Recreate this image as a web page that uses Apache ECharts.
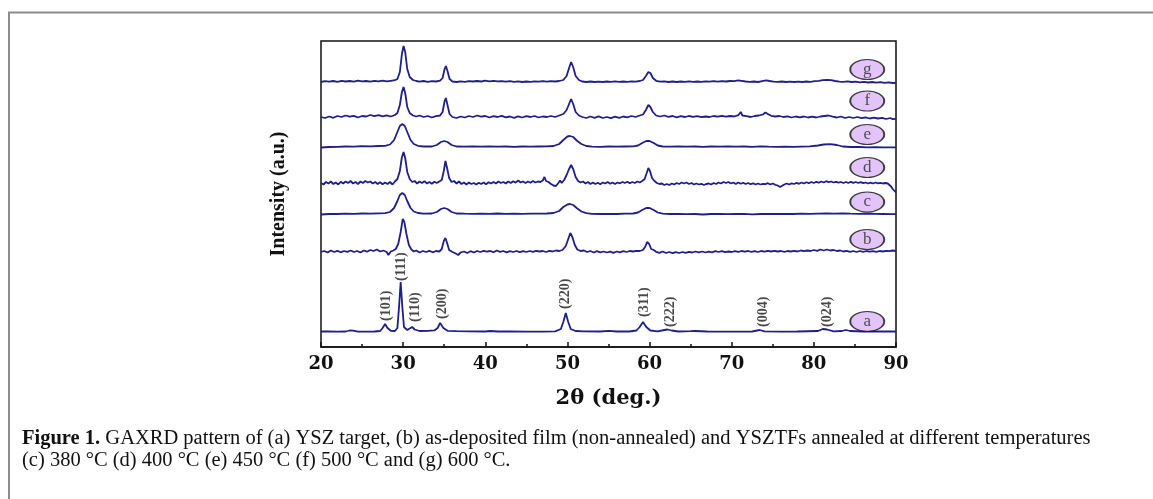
<!DOCTYPE html>
<html>
<head>
<meta charset="utf-8">
<script src="https://cdn.jsdelivr.net/npm/echarts@6/dist/echarts.min.js"></script>
<style>
html,body{margin:0;padding:0;background:#fff;}
#chart{width:1153px;height:499px;}
</style>
</head>
<body>
<div id="chart"></div>
<script>
// ---- data: [2θ (deg), intensity above own baseline (a.u.)] ----
const traceNames = ['a', 'b', 'c', 'd', 'e', 'f', 'g'];
const stackOffsets = [15, 95, 133, 164, 200, 230, 265];

const traceA = [[20,0.5],[21,0.5],[22,0.3],[23,0.5],[23.5,1.5],[23.9,1.3],[24.5,0.3],[25.5,0.3],[26.5,0.5],[27.2,1],[27.5,4],[27.8,8],[28.1,4],[28.5,1.2],[29,1],[29.3,4],[29.5,25],[29.7,50],[29.9,25],[30.1,5],[30.5,2],[30.8,3.5],[31.1,5],[31.4,2.5],[32,1],[33,1.2],[33.8,1.6],[34.2,4],[34.5,9],[34.9,4],[35.4,1.2],[36.5,0.8],[38,0.6],[40,0.5],[40.6,1],[41.5,0.5],[43,0.5],[45,0.3],[47,0.3],[48.5,0.6],[49.2,3],[49.5,10],[49.8,19],[50.1,10],[50.4,3],[51,1],[52,0.6],[54,0.5],[55,1.2],[56,0.5],[57.5,0.5],[58.4,1.5],[58.8,5],[59.2,10],[59.6,5],[60.1,1.5],[61,0.7],[61.8,2],[62.2,2.5],[62.7,1.5],[63.5,0.5],[65,0.8],[65.5,1],[67,0.5],[70,0.4],[72.5,0.5],[73.1,1.5],[73.4,2],[74,0.6],[76,0.4],[78,0.5],[80.5,1],[81.1,3],[81.6,2.5],[82.4,0.6],[83.4,1],[83.9,2],[84.4,1],[86,0.5],[88,0.5],[90,0.5]];

const traceB = [[20,0],[20.4,1],[20.8,-0.5],[21.2,1.5],[21.6,0],[22,1.2],[22.4,-0.3],[22.8,1],[23.2,0.2],[23.6,1.5],[24,0],[24.4,1],[24.8,-0.5],[25.2,1.5],[25.6,0.3],[26,2],[26.4,1],[26.8,2.5],[27.2,0.5],[27.6,1.5],[28,0],[28.2,-3],[28.5,0.5],[28.8,1.5],[29.1,3],[29.4,8],[29.7,20],[29.95,33],[30.15,30],[30.4,18],[30.7,7],[31,2.5],[31.3,0.5],[31.6,1.5],[32,-0.5],[32.4,1],[32.8,0],[33.2,1.2],[33.6,-0.3],[34,1],[34.4,0.5],[34.7,3],[34.95,11],[35.15,14],[35.35,9],[35.6,2],[36,0],[36.4,-1.5],[36.7,-3],[37,-0.5],[37.4,0.5],[37.8,-1],[38.2,0.8],[38.6,-0.5],[39,1],[39.4,0],[39.8,1.2],[40.2,0.3],[40.6,1],[41,-0.2],[41.4,1.5],[41.8,0.2],[42.2,1],[42.6,-0.3],[43,0.8],[43.4,0],[43.8,1],[44.2,-0.2],[44.6,0.8],[45,0],[45.4,1],[45.8,0.2],[46.2,1.2],[46.6,0.5],[47,1],[47.4,0],[47.8,1.2],[48.2,0.5],[48.6,1.5],[49,1],[49.4,2],[49.8,6],[50.1,13],[50.35,19],[50.6,15],[50.9,7],[51.2,2.5],[51.6,1],[52,1.5],[52.4,0],[52.8,1],[53.2,-0.5],[53.6,0.8],[54,-0.3],[54.4,0.5],[54.8,-0.5],[55.2,0.3],[55.6,-0.8],[56,0.5],[56.4,-0.3],[56.8,0.8],[57.2,0],[57.6,1],[58,0.5],[58.4,1.2],[58.8,1],[59.2,2],[59.45,5],[59.7,10],[59.95,8],[60.2,3],[60.5,2],[60.8,0.2],[61.2,-0.8],[61.6,0.5],[62,-1],[62.4,0],[62.8,-1.2],[63.2,-0.2],[63.6,-1],[64,0],[64.4,-0.8],[64.8,0.2],[65.2,-0.5],[65.6,0.5],[66,-0.3],[66.4,0.5],[66.8,-0.5],[67.2,0.3],[67.6,-0.3],[68,0.8],[68.4,0],[68.8,0.8],[69.2,-0.2],[69.6,0.5],[70,0],[70.4,0.8],[70.8,0.2],[71.2,1],[71.6,0.3],[72,1],[72.4,0.2],[72.8,0.8],[73.2,0],[73.6,1],[74,0.3],[74.4,1.2],[74.8,0.5],[75.2,1.2],[75.6,0.5],[76,1],[76.4,0.2],[76.8,1],[77.2,0.5],[77.6,1.2],[78,0.5],[78.4,1.5],[78.8,0.8],[79.2,1.5],[79.6,1],[80,2],[80.4,1.2],[80.8,2.5],[81.2,1.5],[81.6,2.5],[82,1.5],[82.4,2],[82.8,1],[83.2,1.5],[83.6,0.5],[84,1.2],[84.4,0.2],[84.8,1],[85.2,0],[85.6,1],[86,0.2],[86.4,1],[86.8,0.3],[87.2,0.8],[87.6,0.2],[88,1],[88.4,0.5],[88.8,1.2],[89.2,0.8],[89.6,1.5],[90,1]];

const traceC = [[20,-0.5],[21,0],[22,0],[23,0.3],[24,0.2],[25,0.5],[26,0.3],[27,0.6],[27.8,0.8],[28.4,2],[28.9,6],[29.3,13],[29.6,19],[29.9,21],[30.2,19],[30.5,13],[30.9,6],[31.3,2.5],[31.8,1],[32.5,0.3],[33.5,0.5],[34.1,2],[34.6,5],[35,6],[35.4,5],[35.9,2],[36.5,0.5],[37.5,0.3],[38.5,0.2],[39.5,0.4],[40.5,0.2],[41.5,0.5],[42.5,0.2],[43.5,0.3],[44.5,0.1],[45.5,0.3],[46.5,0.4],[47.5,0.5],[48.3,1],[49,3],[49.5,7],[50,9.5],[50.3,10],[50.7,9],[51.2,5.5],[51.7,2.5],[52.3,0.8],[53,0.2],[54,0],[55,0.2],[56,0],[57,0.3],[58,0.5],[58.6,1.5],[59.1,4],[59.6,6],[60,6],[60.5,4],[61,1.5],[61.6,0.3],[62.5,0],[63.5,0.2],[64.5,-0.2],[65.5,0],[66.5,-0.5],[67.5,0],[68.5,0.2],[69.5,-0.2],[70.5,0],[71.5,0.2],[72.5,-0.3],[73.5,0],[74.5,0.2],[75.5,0],[76.5,0.2],[77.5,0],[78.5,0.3],[79.5,0.1],[80.5,0.3],[81.5,0.5],[82.5,0.3],[83.5,0.5],[84.5,0.3],[85.5,0.2],[86.5,0.5],[87.5,0.2],[88.5,0],[89.5,-0.2],[90,-0.2]];

const traceD = [[20,0],[20.3,-1.5],[20.6,1],[20.9,-0.5],[21.2,1.5],[21.5,-1],[21.8,0.5],[22.1,-1.5],[22.4,1.2],[22.7,-0.5],[23,1.5],[23.3,0],[23.6,2],[23.9,-0.5],[24.2,1],[24.5,-1],[24.8,1.5],[25.1,0],[25.4,2],[25.7,0.5],[26,1.5],[26.3,-0.5],[26.6,1],[26.9,-1],[27.2,0.8],[27.5,-1.2],[27.8,0.5],[28.1,-1],[28.4,1],[28.7,-1.5],[29,1.5],[29.3,4],[29.6,12],[29.85,26],[30.05,31],[30.25,25],[30.5,11],[30.8,4],[31.1,1],[31.4,2],[31.7,-0.5],[32,1.5],[32.3,0],[32.6,1.8],[32.9,-0.5],[33.2,1],[33.5,-0.8],[33.8,1.2],[34.1,0],[34.4,1.5],[34.7,3],[34.95,12],[35.15,22],[35.35,15],[35.6,5],[35.9,1],[36.2,2],[36.5,-0.5],[36.8,1.5],[37.1,-1],[37.4,0.5],[37.7,-1.5],[38,0.5],[38.3,-1],[38.6,0],[38.9,-1.5],[39.2,0.3],[39.5,-1],[39.8,0.5],[40.1,-1.2],[40.4,0.8],[40.7,-0.5],[41,1],[41.3,-0.5],[41.6,1.5],[41.9,0],[42.2,1],[42.5,-0.5],[42.8,1.5],[43.1,0],[43.4,1.8],[43.7,0.3],[44,2.5],[44.3,0.5],[44.6,1.5],[44.9,0],[45.2,1.5],[45.5,0.2],[45.8,2],[46.1,0.5],[46.4,1.5],[46.7,1],[47,2.5],[47.2,6],[47.4,2],[47.7,1],[48,-1],[48.3,-2.5],[48.6,-3],[48.9,0],[49.1,2.5],[49.3,0],[49.6,3],[49.9,8],[50.2,14],[50.45,18],[50.7,14],[51,6],[51.3,2],[51.6,0.5],[51.9,1.5],[52.2,-0.5],[52.5,1],[52.8,-1],[53.1,0.5],[53.4,-1],[53.7,0.2],[54,-1.2],[54.3,0.5],[54.6,-0.5],[54.9,1],[55.2,-0.8],[55.5,0.5],[55.8,-1],[56.1,0.5],[56.4,-0.3],[56.7,1],[57,0],[57.3,1.2],[57.6,-0.3],[57.9,1],[58.2,0],[58.5,1.5],[58.8,0.5],[59.1,2],[59.4,4],[59.65,10],[59.85,15],[60.05,12],[60.3,5],[60.6,2],[60.9,0],[61.2,-1],[61.5,-0.5],[61.8,-2],[62.1,-1],[62.4,-2],[62.7,-0.5],[63,-1.5],[63.3,0],[63.6,-1],[63.9,0.5],[64.2,-0.5],[64.5,0.5],[64.8,-1],[65.1,0],[65.4,-1.5],[65.7,-0.5],[66,-1.5],[66.3,-0.8],[66.6,-2],[66.9,-1],[67.2,-0.5],[67.5,-1.5],[67.8,0],[68.1,-1],[68.4,0.5],[68.7,-0.5],[69,1],[69.3,0],[69.6,1],[69.9,-0.5],[70.2,0.5],[70.5,-1],[70.8,0.5],[71.1,-0.8],[71.4,0.3],[71.7,-1],[72,0],[72.3,-1.2],[72.6,-0.3],[72.9,-1.5],[73.2,-0.5],[73.5,-1.5],[73.8,-0.8],[74.1,-1.2],[74.4,-0.2],[74.7,-1.5],[75,-0.5],[75.3,-1.8],[75.6,-2.5],[75.9,-4],[76.1,-3],[76.4,-1.5],[76.7,-0.5],[77,-1.5],[77.3,-0.3],[77.6,-1],[77.9,0.2],[78.2,-0.8],[78.5,0.5],[78.8,-0.5],[79.1,0.8],[79.4,-0.3],[79.7,1],[80,0],[80.3,1.2],[80.6,0.3],[80.9,1.5],[81.2,0.5],[81.5,1.8],[81.8,0.8],[82.1,1.5],[82.4,0.5],[82.7,1.2],[83,0.3],[83.3,1],[83.6,0],[83.9,1],[84.2,0],[84.5,1.2],[84.8,0.2],[85.1,1],[85.4,0],[85.7,0.8],[86,-0.2],[86.3,0.5],[86.6,-0.5],[86.9,0.3],[87.2,-0.5],[87.5,0.5],[87.8,-0.3],[88.1,0.2],[88.4,-0.5],[88.7,0],[89,-0.5],[89.2,-1.5],[89.4,-3.5],[89.6,-6],[89.8,-8],[90,-9.5]];

const traceE = [[20,-0.5],[21,0],[22,0.2],[23,0.5],[24,0.3],[25,0.8],[26,0.6],[27,1],[27.8,1.2],[28.4,2.5],[28.9,7],[29.3,15],[29.6,21],[29.9,23],[30.2,21],[30.5,15],[30.9,7],[31.3,3],[31.8,1.2],[32.5,0.5],[33.5,0.5],[34.1,2],[34.6,5],[35,6],[35.4,5],[35.9,2],[36.5,0.5],[37.5,0.3],[38.5,0.5],[39.5,0.3],[40.5,0.6],[41.5,0.3],[42.5,0.5],[43.5,0.2],[44.5,0.5],[45.5,0.3],[46.5,0.5],[47.5,0.6],[48.3,1],[49,3],[49.5,7],[50,10.5],[50.3,11],[50.7,10],[51.2,6],[51.7,3],[52.3,1],[53,0.3],[54,0.2],[55,0.5],[56,0.3],[57,0.5],[58,0.6],[58.6,1.5],[59.1,4],[59.6,6],[60,6],[60.5,4],[61,1.5],[61.6,0.5],[62.5,0.3],[63.5,0.6],[64.5,0.3],[65.5,0.5],[66.5,0.2],[67.5,0.5],[68.5,0.3],[69.5,0.6],[70.5,0.4],[71.5,0.5],[72.5,0.2],[73.5,0.6],[74.5,0.3],[75.5,0.2],[76.5,0.3],[77.5,0.1],[78.5,0.4],[79.5,0.6],[80.5,1.5],[81.2,2.5],[82,2.8],[82.8,2],[83.5,0.5],[84.5,0],[85.5,0],[86.5,-0.3],[87.5,-0.2],[88.5,-0.4],[89.5,-0.3],[90,-0.3]];

const traceF = [[20,0],[20.5,-1],[21,0.5],[21.5,-0.8],[22,1],[22.5,0],[23,1.5],[23.5,0.3],[24,1.2],[24.5,-0.5],[25,1],[25.5,0.5],[26,2],[26.5,0.8],[27,1.8],[27.5,0.6],[28,1.6],[28.5,0.5],[29,2],[29.3,4],[29.6,12],[29.85,25],[30.05,30],[30.25,24],[30.5,10],[30.8,4],[31.2,1.5],[31.6,0.5],[32,1.5],[32.5,0],[33,1],[33.5,-0.5],[34,0.8],[34.5,1.5],[34.8,5],[35.05,16],[35.2,19],[35.4,12],[35.65,3],[36,0],[36.5,-1],[37,0.5],[37.5,-0.5],[38,1],[38.5,0],[39,1.5],[39.5,0.3],[40,1],[40.5,-0.5],[41,0.8],[41.5,0],[42,1.2],[42.5,-0.3],[43,0.5],[43.5,-0.8],[44,0.6],[44.5,-0.5],[45,0.8],[45.5,0],[46,1],[46.5,-0.5],[47,0.5],[47.5,0],[48,1],[48.5,0],[49,1.5],[49.5,3],[49.9,7],[50.2,13],[50.45,18],[50.7,13],[51,5],[51.4,1.5],[51.8,0],[52.3,-1],[52.8,0.5],[53.3,-0.8],[53.8,0.6],[54.3,-1],[54.8,0],[55.3,-1.2],[55.8,0.3],[56.3,-0.8],[56.8,0.5],[57.3,-0.3],[57.8,1],[58.3,0],[58.8,1.5],[59.2,2.5],[59.55,7],[59.85,12],[60.1,10],[60.4,5],[60.8,1.5],[61.3,0.5],[61.8,1.5],[62.3,0.2],[62.8,1],[63.3,-0.3],[63.8,0.8],[64.3,0],[64.8,1],[65.3,0.2],[65.8,0.8],[66.3,-0.2],[66.8,0.5],[67.3,0],[67.8,1],[68.3,0.3],[68.8,1.2],[69.3,0.4],[69.8,1],[70.3,0.5],[70.8,1.8],[71.1,5],[71.3,1.5],[71.8,0.8],[72.3,0],[72.8,1],[73.3,1.5],[73.8,2.5],[74.1,4.5],[74.4,3],[74.8,1.2],[75.3,0.5],[75.8,1],[76.3,0],[76.8,0.6],[77.3,-0.5],[77.8,0.5],[78.3,-0.3],[78.8,0.5],[79.3,-0.5],[79.8,0.3],[80.3,-0.5],[80.8,0.5],[81.3,1],[81.8,1.5],[82.3,0.3],[82.8,-0.5],[83.3,0.5],[83.8,-1],[84.3,0],[84.8,-1],[85.3,0],[85.8,-1.2],[86.3,-0.3],[86.8,-1.5],[87.3,-0.6],[87.8,-1.5],[88.3,-0.8],[88.8,-2],[89.3,-1],[89.6,-2.2],[90,-1.8]];

const traceG = [[20,0],[20.5,0.8],[21,0.3],[21.5,1],[22,0.2],[22.5,1.2],[23,0.5],[23.5,1],[24,0.4],[24.5,1.3],[25,0.6],[25.5,1],[26,0.3],[26.5,1.2],[27,0.7],[27.5,1.4],[28,0.6],[28.5,1.2],[29,1.8],[29.3,3],[29.6,10],[29.85,28],[30.05,36],[30.25,30],[30.5,13],[30.8,5],[31.2,2],[31.6,1],[32,0.4],[32.5,1],[33,0.2],[33.5,0.8],[34,0.5],[34.5,1.4],[34.8,4],[35.05,13],[35.2,16],[35.4,11],[35.65,3],[36,0.5],[36.5,0],[37,0.6],[37.5,0.2],[38,0.8],[38.5,0.5],[39,1],[39.5,0.5],[40,1.3],[40.5,0.7],[41,1.2],[41.5,0.6],[42,0.9],[42.5,0.3],[43,0.8],[43.5,0.2],[44,0.6],[44.5,0],[45,0.5],[45.5,0.1],[46,0.6],[46.5,0.3],[47,0.8],[47.5,0.4],[48,0.9],[48.5,0.5],[49,1],[49.5,2],[49.9,6],[50.2,14],[50.45,20],[50.7,15],[51,6],[51.4,2],[51.8,0.5],[52.3,0],[52.8,0.5],[53.3,0],[53.8,0.4],[54.3,0],[54.8,0.5],[55.3,0.1],[55.8,0.6],[56.3,0.1],[56.8,0.5],[57.3,0.2],[57.8,0.6],[58.3,0.3],[58.8,1],[59.2,2],[59.55,6],[59.85,10],[60.1,9],[60.4,4],[60.8,1.2],[61.3,0.3],[61.8,0.6],[62.3,0],[62.8,0.5],[63.3,0],[63.8,0.5],[64.3,0.1],[64.8,0.6],[65.3,0.2],[65.8,0.5],[66.3,0.1],[66.8,0.7],[67.3,0.3],[67.8,0.8],[68.3,0.3],[68.8,0.9],[69.3,0.5],[69.8,1],[70.3,0.8],[70.8,1.6],[71.2,1.2],[71.7,0.5],[72.2,0.2],[72.7,0.5],[73.2,0],[73.7,0.8],[74.2,1.6],[74.6,1],[75.1,0.3],[75.6,0.1],[76.1,0.5],[76.6,0],[77.1,0.4],[77.6,0],[78.1,0.4],[78.6,0],[79.1,0.5],[79.6,0.2],[80.1,0.8],[80.6,1.2],[81.1,1.8],[81.6,2.2],[82.1,1.8],[82.6,1],[83.1,0.4],[83.6,0.2],[84.1,0.6],[84.6,0],[85.1,0.3],[85.6,-0.3],[86.1,0.2],[86.6,-0.5],[87.1,0],[87.6,-0.6],[88.1,-0.2],[88.6,-0.8],[89.1,-0.4],[89.6,-1],[90,-0.8]];

const traces = [traceA, traceB, traceC, traceD, traceE, traceF, traceG];

// reflection labels of trace (a): [label, 2θ, height above baseline of a]
const peakLabels = [['(101)',27.9,10],['(111)',29.8,50],['(110)',31.5,9],['(200)',34.8,12],['(220)',49.8,22],['(311)',59.4,14],['(222)',62.5,4],['(004)',73.8,4],['(024)',81.7,4]];
// trace badge letters: height above each trace baseline
const badgeX = 86.5;
const badgeLift = [10.5, 12.5, 12, 15.5, 12.5, 16, 12.5];

const xTicks = [20, 30, 40, 50, 60, 70, 80, 90];

const lineColor = '#1e1e8c';
const series = [];
traces.forEach(function (t, i) {
  series.push({
    type: 'line', name: traceNames[i], showSymbol: false, symbol: 'none',
    data: t.map(function (p) { return [p[0], p[1] + stackOffsets[i]]; }),
    lineStyle: { color: lineColor, width: 1.8 }, z: 2, silent: true, animation: false
  });
});
series.push({
  type: 'scatter', symbolSize: 0, silent: true, animation: false, z: 5,
  data: peakLabels.map(function (p) { return { value: [p[1], p[2] + stackOffsets[0]], name: p[0] }; }),
  label: {
    show: true, position: 'top', distance: 1, rotate: 90, align: 'left', verticalAlign: 'middle',
    formatter: '{b}', fontFamily: 'Liberation Serif', fontWeight: 'bold', fontSize: 14, color: '#1a1a1a'
  }
});
series.push({
  type: 'scatter', silent: true, animation: false, z: 6,
  symbol: 'path://M0,10 A10,10 0 1,1 20,10 A10,10 0 1,1 0,10 Z',
  symbolSize: [34, 20],
  itemStyle: { color: '#dcb5f7', borderColor: '#111', borderWidth: 1.5 },
  data: traceNames.map(function (n, i) { return { value: [badgeX, stackOffsets[i] + badgeLift[i]], name: n }; }),
  label: {
    show: true, position: 'inside', formatter: '{b}', fontFamily: 'Liberation Serif',
    fontSize: 17, color: '#2a2a2a', padding: [0, 0, 3, 0]
  }
});

const chart = echarts.init(document.getElementById('chart'), null, { renderer: 'canvas' });
chart.setOption({
  animation: false,
  backgroundColor: '#fff',
  grid: { left: 321, right: 257, top: 41, bottom: 152, show: true, borderColor: '#111', borderWidth: 1.5, backgroundColor: 'transparent' },
  xAxis: {
    type: 'value', min: 20, max: 90, interval: 10,
    axisLine: { show: true, lineStyle: { color: '#111', width: 1.5 } },
    axisTick: { show: true, inside: true, length: 5, lineStyle: { color: '#111', width: 1.5 } },
    minorTick: { show: true, splitNumber: 2, length: 3, lineStyle: { color: '#111', width: 1.5 } },
    splitLine: { show: false },
    axisLabel: {
      margin: 8, fontFamily: 'DejaVu Serif', fontWeight: 'bold', fontSize: 18, color: '#111',
      formatter: function (v) { return xTicks.indexOf(v) >= 0 ? String(v) : ''; }
    },
    name: '2θ (deg.)', nameLocation: 'middle', nameGap: 41,
    nameTextStyle: { fontFamily: 'DejaVu Serif', fontWeight: 'bold', fontSize: 21, color: '#111' }
  },
  yAxis: {
    type: 'value', min: 0, max: 306,
    axisLine: { show: false }, axisTick: { show: false }, axisLabel: { show: false }, splitLine: { show: false },
    name: 'Intensity (a.u.)', nameLocation: 'middle', nameGap: 32, nameRotate: 90,
    nameTextStyle: { fontFamily: 'Liberation Serif', fontWeight: 'bold', fontSize: 20, color: '#111' }
  },
  graphic: [
    { type: 'line', silent: true, shape: { x1: 8, y1: 12.5, x2: 1153, y2: 12.5 }, style: { stroke: '#8c8c8c', lineWidth: 2 } },
    { type: 'line', silent: true, shape: { x1: 9, y1: 12, x2: 9, y2: 499 }, style: { stroke: '#8c8c8c', lineWidth: 2 } },
    { type: 'text', silent: true, left: 22, top: 428,
      style: { text: '{b|Figure 1.} GAXRD pattern of (a) YSZ target, (b) as-deposited film (non-annealed) and YSZTFs annealed at different temperatures',
        fontFamily: 'Liberation Serif', fontSize: 20.5, fill: '#111',
        rich: { b: { fontFamily: 'Liberation Serif', fontWeight: 'bold', fontSize: 20.5, fill: '#111' } } } },
    { type: 'text', silent: true, left: 22, top: 450,
      style: { text: '(c) 380 °C (d) 400 °C (e) 450 °C (f) 500 °C and (g) 600 °C.',
        fontFamily: 'Liberation Serif', fontSize: 20.5, fill: '#111' } }
  ],
  series: series
});
</script>
</body>
</html>
